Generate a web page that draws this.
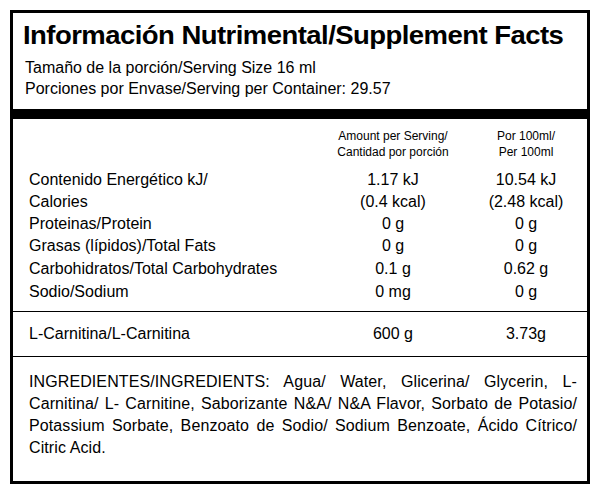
<!DOCTYPE html>
<html><head><meta charset="utf-8">
<script src="https://cdn.jsdelivr.net/npm/chart.js@4"></script>
<style>
body{margin:0;background:#fff;font-family:"Liberation Sans",Arial,sans-serif;color:#000}
#box{position:absolute;left:10px;top:10px;width:574px;height:468px;border:3px solid #000}
.t{position:absolute;white-space:nowrap}
.hl{position:absolute;left:0;width:574px;background:#000}
.c1{position:absolute;width:200px;text-align:center;left:290px}
.c2{position:absolute;width:140px;text-align:center;left:453px}
</style></head><body>
<div id="box"></div>
<script>
const title="Información Nutrimental/Supplement Facts";
const sub=["Tamaño de la porción/Serving Size 16 ml","Porciones por Envase/Serving per Container: 29.57"];
const headers=[["Amount per Serving/","Cantidad por porción"],["Por 100ml/","Per 100ml"]];
const rows=["Contenido Energético kJ/","Calories","Proteinas/Protein","Grasas (lípidos)/Total Fats","Carbohidratos/Total Carbohydrates","Sodio/Sodium"];
const perServing=["1.17 kJ","(0.4 kcal)","0 g","0 g","0.1 g","0 mg"];
const per100=["10.54 kJ","(2.48 kcal)","0 g","0 g","0.62 g","0 g"];
const extra=["L-Carnitina/L-Carnitina","600 g","3.73g"];
const ingredients="INGREDIENTES/INGREDIENTS: Agua/ Water, Glicerina/ Glycerin, L-Carnitina/ L- Carnitine, Saborizante N&A/ N&A Flavor, Sorbato de Potasio/ Potassium Sorbate, Benzoato de Sodio/ Sodium Benzoate, Ácido Cítrico/ Citric Acid.";
const box=document.getElementById('box');
function add(cls,txt,top,left,style){const d=document.createElement('div');d.className=cls;d.textContent=txt;d.style.top=top+'px';if(left!=null)d.style.left=left+'px';if(style)d.style.cssText+=style;box.appendChild(d);return d;}
function line(top,h){const d=document.createElement('div');d.className='hl';d.style.top=top+'px';d.style.height=h+'px';box.appendChild(d);}
add('t',title,8,10,'font-size:25px;font-weight:bold;letter-spacing:-0.5px;transform:scaleX(1.1);transform-origin:left');
add('t',sub[0],46,12,'font-size:16px');
add('t',sub[1],67,12,'font-size:16px');
line(96,10);
headers.forEach((h,i)=>{add(i?'c2':'c1',h[0],115,null,'font-size:12px;line-height:16px;left:'+(i?453:280)+'px;width:'+(i?120:200)+'px');add(i?'c2':'c1',h[1],131,null,'font-size:12px;line-height:16px;left:'+(i?453:280)+'px;width:'+(i?120:200)+'px');});
const ys=[158,180,202,224,247,270];
rows.forEach((r,i)=>{add('t',r,ys[i],16,'font-size:16px');add('c1',perServing[i],ys[i],280,'font-size:16px');add('c2',per100[i],ys[i],453,'font-size:16px;width:120px');});
line(298,1);
add('t',extra[0],312,16,'font-size:16px');add('c1',extra[1],312,280,'font-size:16px');add('c2',extra[2],312,453,'font-size:16px;width:120px');
line(343,1);
add('t',ingredients,358,16,'font-size:16px;white-space:normal;width:548px;text-align:justify;line-height:22px;letter-spacing:0.1px');
</script>
</body></html>
